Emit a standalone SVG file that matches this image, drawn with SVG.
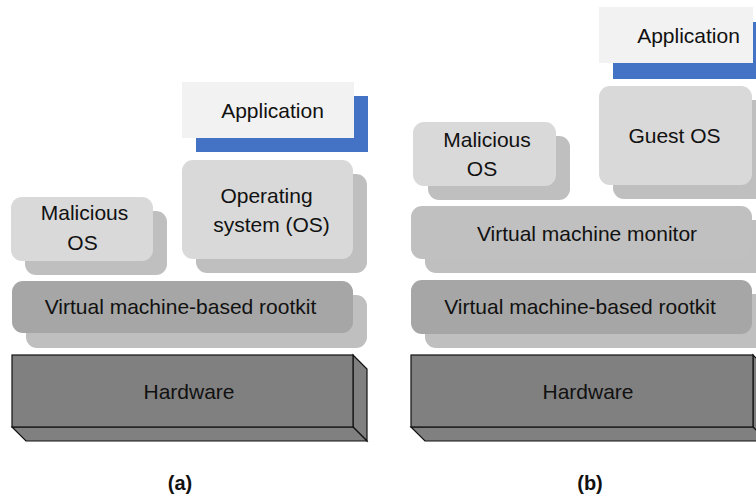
<svg xmlns="http://www.w3.org/2000/svg" width="756" height="496" viewBox="0 0 756 496">
<style>
text{font-family:"Liberation Sans",Arial,sans-serif;font-size:21px;fill:#111;text-anchor:middle}
.lbl{font-weight:bold;font-size:20px}
.app{fill:#f2f2f2}
.blue{fill:#4472c4}
.os{fill:#d9d9d9}
.sh{fill:#bfbfbf}
.vmbr{fill:#a6a6a6}
.vmm{fill:#c0c0c0}
.hw{fill:#808080;stroke:#111;stroke-width:1.2;stroke-linejoin:miter}
</style>
<rect width="756" height="496" fill="#fff"/>
<g id="a-application">
<rect class="blue" x="196" y="96" width="172" height="56"/>
<rect class="app" x="182" y="82" width="172" height="56"/>
<text x="272.5" y="118">Application</text>
</g>
<g id="a-os">
<rect class="sh" x="196" y="174" width="171" height="99" rx="11"/>
<rect class="os" x="182" y="160" width="171" height="99" rx="11"/>
<text x="266.5" y="203">Operating</text>
<text x="271.5" y="232">system (OS)</text>
</g>
<g id="a-malicious">
<rect class="sh" x="25" y="211" width="142" height="64" rx="11"/>
<rect class="os" x="11" y="197" width="142" height="64" rx="11"/>
<text x="84.5" y="220">Malicious</text>
<text x="82.5" y="250">OS</text>
</g>
<g id="a-vmbr">
<rect class="sh" x="26" y="295" width="341" height="53" rx="11"/>
<rect class="vmbr" x="12" y="281" width="341" height="52" rx="11"/>
<text x="180.5" y="314">Virtual machine-based rootkit</text>
</g>
<g id="a-hardware">
<polygon class="hw" points="353,355 367,369 367,441 353,427"/>
<polygon class="hw" points="12,427 353,427 367,441 26,441"/>
<rect class="hw" x="12" y="355" width="341" height="72"/>
<text x="189" y="399">Hardware</text>
</g>
<g id="b-application">
<rect class="blue" x="613" y="22" width="160" height="57"/>
<rect class="app" x="599" y="7" width="154" height="56"/>
<text x="688.5" y="43">Application</text>
</g>
<g id="b-guestos">
<rect class="sh" x="613" y="100" width="160" height="99" rx="11"/>
<rect class="os" x="599" y="86" width="153" height="99" rx="11"/>
<text x="674.5" y="143">Guest OS</text>
</g>
<g id="b-malicious">
<rect class="sh" x="428" y="136" width="142" height="64" rx="11"/>
<rect class="os" x="413" y="122" width="143" height="64" rx="11"/>
<text x="487" y="147">Malicious</text>
<text x="482" y="176">OS</text>
</g>
<g id="b-vmm">
<rect class="sh" x="425" y="220" width="350" height="53" rx="11"/>
<rect class="vmm" x="411" y="206" width="341" height="53" rx="11"/>
<text x="587" y="241">Virtual machine monitor</text>
</g>
<g id="b-vmbr">
<rect class="sh" x="425" y="294" width="341" height="54" rx="11"/>
<rect class="vmbr" x="411" y="280" width="341" height="54" rx="11"/>
<text x="580" y="314">Virtual machine-based rootkit</text>
</g>
<g id="b-hardware">
<polygon class="hw" points="753,355 767,369 767,441 753,427"/>
<polygon class="hw" points="411,427 753,427 767,441 425,441"/>
<rect class="hw" x="411" y="355" width="342" height="72"/>
<text x="588" y="399">Hardware</text>
</g>
<g id="labels">
<text class="lbl" x="180" y="490">(a)</text>
<text class="lbl" x="590" y="490">(b)</text>
</g>
<g id="connectors"/>
</svg>
